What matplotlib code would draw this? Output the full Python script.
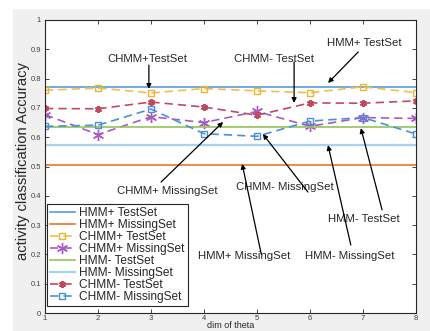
import matplotlib
matplotlib.use("Agg")
import matplotlib.pyplot as plt
from matplotlib.patches import Rectangle

plt.rcParams['font.family'] = ['Liberation Sans', 'DejaVu Sans']

dims = [1, 2, 3, 4, 5, 6, 7, 8]
hmm_plus_test = 0.773
hmm_plus_missing = 0.506
hmm_minus_test = 0.636
hmm_minus_missing = 0.575
chmm_plus_test = [0.760, 0.768, 0.751, 0.766, 0.758, 0.752, 0.772, 0.752]
chmm_plus_missing = [0.677, 0.609, 0.670, 0.650, 0.688, 0.637, 0.667, 0.664]
chmm_minus_test = [0.698, 0.697, 0.720, 0.703, 0.675, 0.717, 0.716, 0.724]
chmm_minus_missing = [0.637, 0.641, 0.696, 0.612, 0.603, 0.655, 0.667, 0.611]

labels = ['HMM+ TestSet', 'HMM+ MissingSet', 'CHMM+ TestSet', 'CHMM+ MissingSet',
          'HMM- TestSet', 'HMM- MissingSet', 'CHMM- TestSet', 'CHMM- MissingSet']
yticks = [0, 0.1, 0.2, 0.3, 0.4, 0.5, 0.6, 0.7, 0.8, 0.9, 1]
ytick_labels = ['0', '0.1', '0.2', '0.3', '0.4', '0.5', '0.6', '0.7', '0.8', '0.9', '1']

# annotations: text, text position, arrow tail, arrow head (data coords)
annotations = [
    ('CHMM+TestSet', (2.94, 0.867), (2.96, 0.846), (2.96, 0.765)),
    ('CHMM- TestSet', (5.32, 0.868), (5.70, 0.857), (5.70, 0.717)),
    ('HMM+ TestSet', (7.02, 0.922), (6.91, 0.891), (6.34, 0.785)),
    ('CHMM+ MissingSet', (3.30, 0.416), (3.19, 0.447), (4.36, 0.652)),
    ('CHMM- MissingSet', (5.53, 0.430), (5.96, 0.413), (5.11, 0.611)),
    ('HMM+ MissingSet', (4.76, 0.196), (5.08, 0.201), (4.72, 0.509)),
    ('HMM- MissingSet', (6.75, 0.195), (6.77, 0.232), (6.34, 0.573)),
    ('HMM- TestSet', (7.01, 0.321), (7.36, 0.352), (6.96, 0.631)),
]

W, H = 430, 331
fig = plt.figure(figsize=(W / 100, H / 100), dpi=100, facecolor='white')
fig.patches.append(Rectangle((13 / W, 0), 1 - 13 / W, (H - 9) / H,
                             transform=fig.transFigure, facecolor='#f0f0f0',
                             edgecolor='none', zorder=-10))
ax = fig.add_axes([45 / W, (H - 313) / H, (416 - 45) / W, (313 - 20) / H])
ax.set_facecolor('white')

dash = (0, (5, 3))
ax.plot(dims, [hmm_plus_test] * len(dims), color='#5a9be0', lw=1.2, label=labels[0])
ax.plot(dims, [hmm_plus_missing] * len(dims), color='#e8772e', lw=1.2, label=labels[1])
ax.plot(dims, chmm_plus_test, color='#f0c040', lw=1.2, ls=dash, marker='s',
        ms=5, mfc='none', mec='#eab530', mew=1.0, label=labels[2])
ax.plot(dims, chmm_plus_missing, color='#a95bc2', lw=1.2, ls=dash, marker=(6, 2, 0),
        ms=8, mew=1.0, label=labels[3])
ax.plot(dims, [hmm_minus_test] * len(dims), color='#93c35a', lw=1.2, label=labels[4])
ax.plot(dims, [hmm_minus_missing] * len(dims), color='#a3d5f2', lw=1.6, label=labels[5])
ax.plot(dims, chmm_minus_test, color='#c24a60', lw=1.2, ls=dash, marker=(6, 2, 0),
        ms=5, mew=1.4, label=labels[6])
ax.plot(dims, chmm_minus_missing, color='#4a90d9', lw=1.2, ls=dash, marker='s',
        ms=4.5, mfc='none', mew=1.0, label=labels[7])

for txt, tpos, tail, head in annotations:
    ax.text(tpos[0], tpos[1], txt, ha='center', va='center', fontsize=8.2,
            color='#262626', zorder=6)
    ax.annotate('', xy=head, xytext=tail,
                arrowprops=dict(arrowstyle='-|>', lw=0.9, color='black',
                                mutation_scale=7, shrinkA=0, shrinkB=0),
                zorder=7)

ax.set_xlim(1, 8)
ax.set_ylim(0, 1)
ax.set_xticks(dims)
ax.set_xticklabels([str(d) for d in dims])
ax.set_yticks(yticks)
ax.set_yticklabels(ytick_labels)
ax.tick_params(direction='in', top=True, right=True, length=3, width=0.6,
               color='#262626', labelsize=5.5, labelcolor='#404040')
ax.tick_params(axis='y', pad=3)
ax.tick_params(axis='x', pad=1.5)
for s in ax.spines.values():
    s.set_color('#262626')
    s.set_linewidth(0.8)

fig.text(23 / W, 1 - 161 / H, 'activity classification Accuracy', rotation=90,
         ha='center', va='center', fontsize=10.6, color='#262626')
fig.text(230.5 / W, 0.5 / H, 'dim of theta', ha='center', va='bottom',
         fontsize=6.5, color='#262626')

leg = ax.legend(loc='upper left', bbox_to_anchor=(0.005, 0.372), borderaxespad=0,
                fontsize=8.6, labelspacing=0.0, handlelength=2.1,
                handletextpad=0.35, borderpad=0.25, fancybox=False,
                framealpha=1, edgecolor='#262626')
leg.get_frame().set_linewidth(0.8)
for t in leg.get_texts():
    t.set_color('#262626')

fig.savefig('out.png', dpi=100, facecolor=fig.get_facecolor())
